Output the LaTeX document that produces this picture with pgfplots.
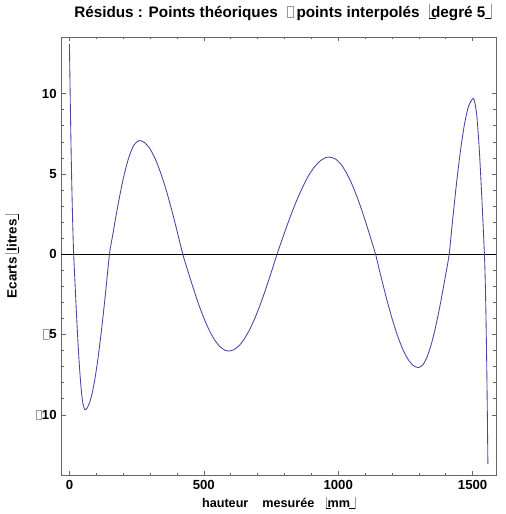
\documentclass[border=0pt]{standalone}
\usepackage{pgfplots}
\pgfplotsset{compat=1.18}
\usepackage{fontspec}
\setmainfont{Liberation Sans}
\definecolor{mblue}{rgb}{0.28,0.27,0.63}
\newcommand{\gb}{{\color{black!40}\setlength\fboxsep{0pt}\setlength\fboxrule{0.4pt}\fbox{\rule{0pt}{0.68em}\hspace{0.36em}}}}
\newcommand{\lb}{{\color{black!40}\rule[-0.12em]{0.4pt}{0.95em}}\hspace{-0.4pt}\rule[-0.12em]{0.45em}{0.5pt}\hspace{-0.3em}}
\newcommand{\rb}{\hspace{-0.05em}\rule[-0.12em]{0.45em}{0.5pt}\hspace{-0.4pt}{\color{black!40}\rule[-0.12em]{0.4pt}{0.95em}}}
\pgfplotstableread{
x y
0 13.09
4 8.64
8 4.96
12 2.06
15.8 0
20 -1.52
25 -3.28
30 -4.93
35 -6.40
40 -7.64
45 -8.62
50 -9.29
57.6 -9.68
65 -9.60
75 -9.25
85 -8.63
95 -7.75
105 -6.64
115 -5.34
125 -3.88
135 -2.31
149 0
160 1.10
180 3.01
200 4.68
220 5.98
240 6.80
260 7.08
280 6.95
300 6.56
320 5.91
340 5.04
360 4.00
380 2.79
400 1.48
421.7 0
440 -1.01
460 -2.07
480 -3.08
500 -3.97
520 -4.73
540 -5.33
560 -5.76
580 -5.99
593 -6.03
610 -5.96
630 -5.72
650 -5.29
670 -4.71
690 -3.99
710 -3.14
730 -2.19
750 -1.18
772.5 0
790 0.85
810 1.80
830 2.70
850 3.52
870 4.26
890 4.90
910 5.40
930 5.77
950 5.99
968 6.05
990 5.93
1010 5.61
1030 5.09
1050 4.41
1070 3.58
1090 2.63
1110 1.59
1125 0.78
1139 0
1160 -1.45
1180 -2.77
1200 -3.98
1220 -5.04
1240 -5.91
1260 -6.55
1280 -6.94
1299 -7.06
1315 -6.89
1330 -6.43
1345 -5.69
1360 -4.71
1375 -3.53
1390 -2.20
1400 -1.26
1413 0
1425 2.0
1440 4.38
1455 6.46
1470 8.11
1485 9.21
1503.5 9.70
1515 8.75
1525 6.52
1535 3.32
1544 0
1547 -1.57
1550 -4.0
1553 -7.30
1555 -10.0
1557 -13.07
}\residus
\begin{document}
\begin{tikzpicture}
\begin{axis}[
  name=ax,
  scale only axis,
  width=330pt, height=333pt,
  xmin=-30.4, xmax=1587,
  ymin=-13.78, ymax=13.54,
  axis line style={black!60},
  every tick/.style={black!60},
  tick align=inside,
  major tick length=3.3pt,
  minor tick length=2pt,
  xtick={0,500,1000,1500},
  minor x tick num=4,
  ytick={-10,-5,0,5,10},
  yticklabels={\gb10,\gb5,0,5,10},
  minor y tick num=4,
  /pgf/number format/assume math mode=true,
  /pgf/number format/set thousands separator={},
  tick label style={font=\bfseries\fontsize{10}{12}\selectfont},
  title={Résidus : Points théoriques\hspace{0.6em}\gb\hspace{0.2em}points interpolés\hspace{0.6em}\lb degré 5\rb},
  title style={at={(axis description cs:0.51,1.027)}, anchor=base, font=\bfseries\fontsize{11.6}{13}\selectfont},
  xlabel={hauteur\hspace{1.1em}mesurée\hspace{0.9em}\lb mm\rb},
  xlabel style={at={(axis description cs:0.5,-0.0725)}, anchor=base, font=\bfseries\fontsize{9.6}{12}\selectfont},
  ylabel={Ecarts \lb litres\rb},
  ylabel style={at={(axis description cs:-0.1136,0.5)}, anchor=center, font=\bfseries\fontsize{10.2}{12}\selectfont},
  clip=true,
]
\addplot[black, line width=0.6pt] coordinates {(-30.4,0) (1587,0)};
\addplot[mblue, line width=0.65pt, smooth, tension=0.4] table[x=x,y=y] {\residus};
\end{axis}
\path ([shift={(-46.5pt,-29.25pt)}]ax.south west) rectangle ([shift={(7.5pt,23.25pt)}]ax.north east);
\end{tikzpicture}
\end{document}
